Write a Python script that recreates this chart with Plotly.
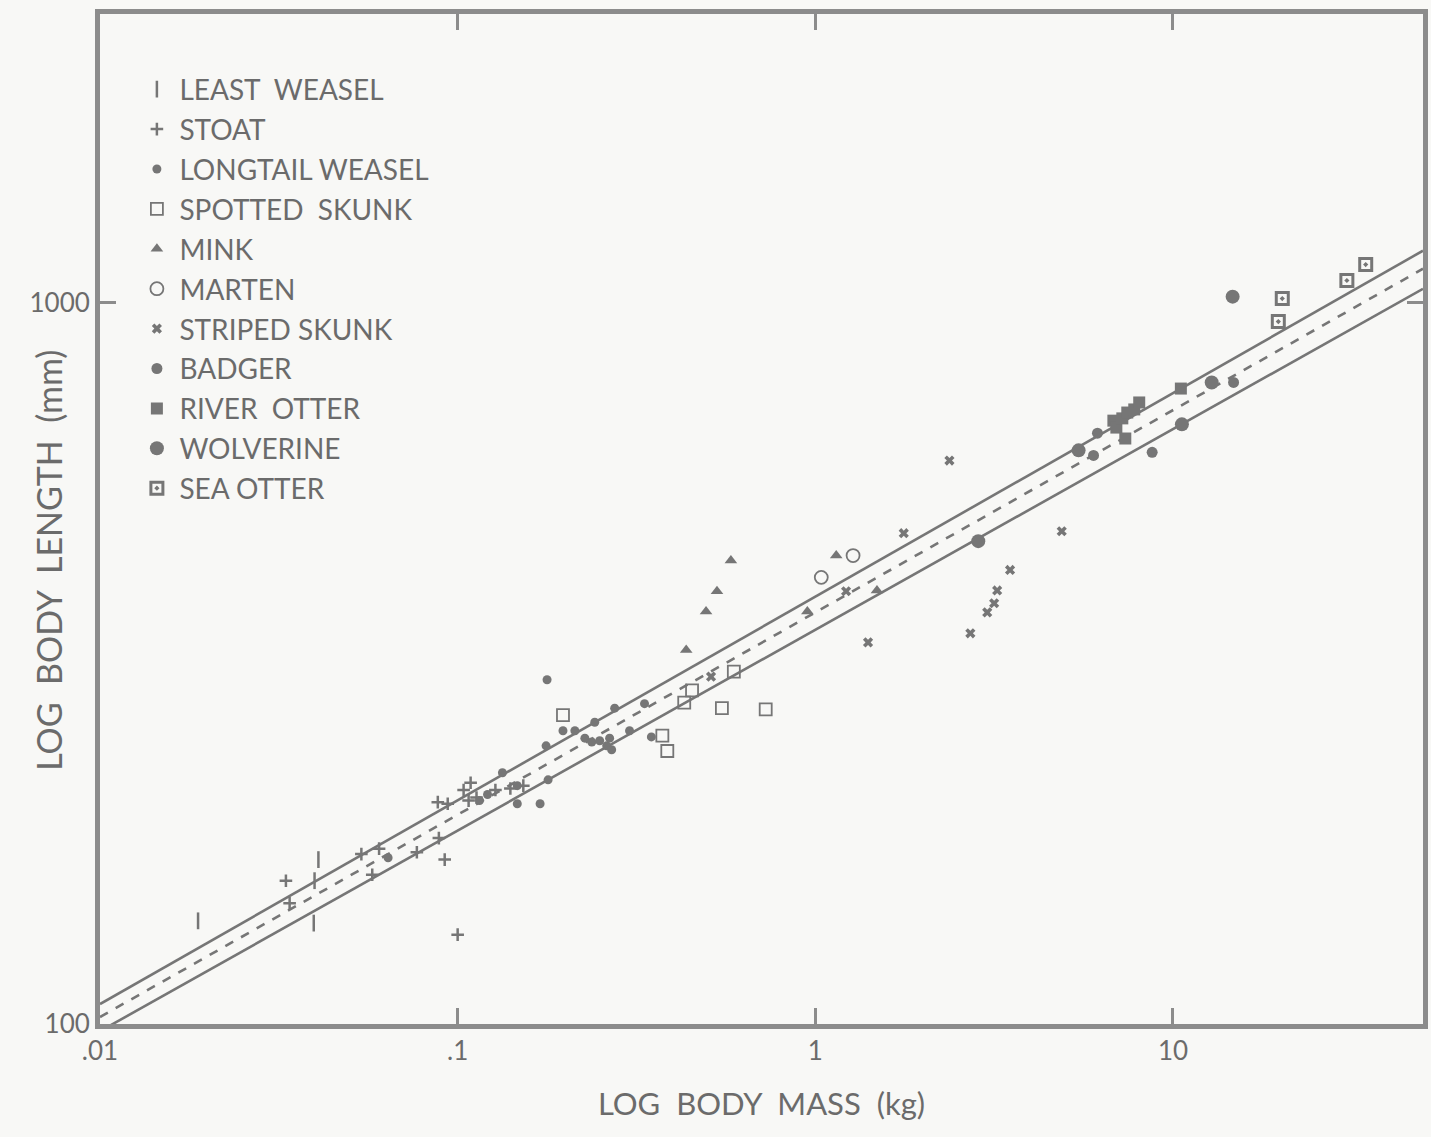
import plotly.graph_objects as go

# ---- data (body mass kg, body length mm) ----
least_weasel_mass = [0.0188, 0.0408, 0.0398, 0.0396]
least_weasel_len = [139, 169, 158, 138]

stoat_mass = [0.0331, 0.0339, 0.0538, 0.0603, 0.0577, 0.0769, 0.0886, 0.0920, 0.100,
              0.0880, 0.0938, 0.1039, 0.1087, 0.1073, 0.1129, 0.1275, 0.1404, 0.1526]
stoat_len = [158, 147, 172, 175, 161, 173, 181, 169, 133,
             203, 202, 211, 216, 204, 206, 211, 212, 214]

longtail_mass = [0.0639, 0.1151, 0.1212, 0.1334, 0.1468, 0.1468, 0.170, 0.179, 0.1767, 0.1778,
                 0.197, 0.2127, 0.2417, 0.2748, 0.2268, 0.2371, 0.2495, 0.2610, 0.2695, 0.266,
                 0.3024, 0.333, 0.348]
longtail_len = [170, 204, 208, 223, 214, 202, 202, 218, 243, 300,
                255, 255, 262, 274, 249, 246, 247, 243, 240, 249,
                255, 278, 250]

spotted_skunk_mass = [0.197, 0.3735, 0.3856, 0.430, 0.4522, 0.548, 0.5918, 0.7265]
spotted_skunk_len = [268, 251, 239, 279, 290, 274, 308, 273]

mink_mass = [0.4355, 0.4948, 0.5309, 0.5807, 0.950, 1.144, 1.487]
mink_len = [330, 373, 398, 439, 373, 446, 399]

marten_mass = [1.039, 1.275]
marten_len = [416, 446]

striped_skunk_mass = [0.511, 1.219, 1.404, 1.767, 2.371, 2.713, 3.024, 3.162, 3.224, 3.503, 4.886]
striped_skunk_len = [303, 398, 338, 479, 604, 348, 372, 383, 399, 426, 482]

badger_mass = [5.995, 8.745, 14.77, 6.15]
badger_len = [614, 620, 775, 659]

river_otter_mass = [6.813, 6.945, 7.216, 7.451, 7.793, 8.046, 10.52, 7.356]
river_otter_len = [686, 671, 691, 704, 711, 727, 760, 648]

wolverine_mass = [2.855, 5.446, 10.59, 12.83, 14.68]
wolverine_len = [467, 624, 678, 775, 1019]

sea_otter_mass = [19.70, 20.21, 30.63, 34.58]
sea_otter_len = [941, 1013, 1073, 1129]

# regression (log10 L = b + a*log10 M): upper bound, fit, lower bound
fit_names = ["upper", "fit", "lower"]
fit_slope = [0.2823, 0.2804, 0.2782]
fit_intercept = [2.5923, 2.5705, 2.5464]
line_mass = [0.01, 50]

x_tickvals = [0.01, 0.1, 1, 10]
x_ticktext = [".01", ".1", "1", "10"]
y_tickvals = [100, 1000]
y_ticktext = ["100", "1000"]

GRAY = "#767676"
TEXT = "#6b6b6b"
FRAME = "#8c8c8c"
FONT = "Lato"

fig = go.Figure()

for name, a, b in zip(fit_names, fit_slope, fit_intercept):
    ys = [10 ** b * m ** a for m in line_mass]
    fig.add_trace(go.Scatter(
        x=line_mass, y=ys, mode="lines", showlegend=False, hoverinfo="skip",
        line=dict(color=GRAY, width=2.6, dash="dash" if name == "fit" else "solid"),
    ))

series = [
    ("LEAST  WEASEL", least_weasel_mass, least_weasel_len, dict(symbol="line-ns", size=12, line=dict(color=GRAY, width=2.5))),
    ("STOAT", stoat_mass, stoat_len, dict(symbol="cross-thin", size=9, line=dict(color=GRAY, width=2.5))),
    ("LONGTAIL WEASEL", longtail_mass, longtail_len, dict(symbol="circle", size=9, color=GRAY)),
    ("SPOTTED  SKUNK", spotted_skunk_mass, spotted_skunk_len, dict(symbol="square-open", size=12, color=GRAY, line=dict(width=1.8))),
    ("MINK", mink_mass, mink_len, dict(symbol="triangle-up", size=11, color=GRAY)),
    ("MARTEN", marten_mass, marten_len, dict(symbol="circle-open", size=13, color=GRAY, line=dict(width=1.8))),
    ("STRIPED SKUNK", striped_skunk_mass, striped_skunk_len, dict(symbol="x", size=9, color=GRAY)),
    ("BADGER", badger_mass, badger_len, dict(symbol="circle", size=11, color=GRAY)),
    ("RIVER  OTTER", river_otter_mass, river_otter_len, dict(symbol="square", size=12, color=GRAY)),
    ("WOLVERINE", wolverine_mass, wolverine_len, dict(symbol="circle", size=14, color=GRAY)),
    ("SEA OTTER", sea_otter_mass, sea_otter_len, dict(symbol="square-open-dot", size=12, color=GRAY, line=dict(width=3))),
]

for i, (name, xs, ys, mk) in enumerate(series):
    fig.add_trace(go.Scatter(
        x=xs, y=ys, mode="markers", name=name, marker=mk, legendgroup=f"g{i}",
    ))

axis_common = dict(
    type="log", showgrid=False, zeroline=False,
    showline=True, linecolor=FRAME, linewidth=5, mirror="ticks",
    ticks="inside", ticklen=16, tickwidth=3, tickcolor=FRAME,
    tickfont=dict(family=FONT, size=26, color=TEXT),
)

fig.update_xaxes(
    **axis_common, range=[-2, 1.699],
    tickvals=x_tickvals, ticktext=x_ticktext,
    title=dict(text="LOG  BODY  MASS  (kg)", font=dict(family=FONT, size=31, color=TEXT), standoff=30),
)
fig.update_yaxes(
    **axis_common, range=[2, 3.4],
    tickvals=y_tickvals, ticktext=y_ticktext,
)

fig.add_annotation(
    text="LOG  BODY  LENGTH  (mm)", textangle=-90,
    xref="paper", yref="paper", x=-0.039, y=0.459,
    xanchor="center", yanchor="middle", showarrow=False,
    font=dict(family=FONT, size=34, color=TEXT),
)

fig.update_layout(
    width=1431, height=1137,
    margin=dict(l=100, r=3, t=14, b=113),
    paper_bgcolor="#f8f8f6", plot_bgcolor="#f8f8f6",
    showlegend=True,
    legend=dict(
        x=0.026, y=0.95, xanchor="left", yanchor="top",
        bgcolor="rgba(0,0,0,0)", borderwidth=0,
        font=dict(family=FONT, size=28, color=TEXT),
        tracegroupgap=0.5, itemwidth=35,
    ),
)

fig.write_html("out.html")
